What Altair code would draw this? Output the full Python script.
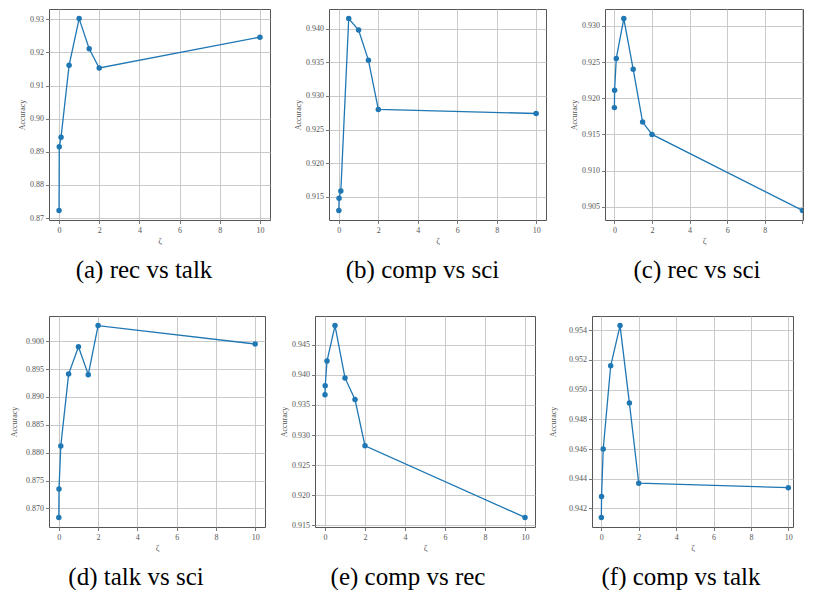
import altair as alt
import pandas as pd

zeta = [0, 0.01, 0.1, 0.5, 1, 1.5, 2, 10]
acc_a = [0.8723, 0.8915, 0.8944, 0.9161, 0.9302, 0.9211, 0.9153, 0.9246]
acc_b = [0.9130, 0.9148, 0.9159, 0.9415, 0.9398, 0.9353, 0.9280, 0.9274]
acc_c = [0.9187, 0.9211, 0.9255, 0.9310, 0.9240, 0.9167, 0.9150, 0.9045]
acc_d = [0.8684, 0.8735, 0.8812, 0.8941, 0.8990, 0.8940, 0.9028, 0.8995]
acc_e = [0.9367, 0.9382, 0.9423, 0.9482, 0.9395, 0.9359, 0.9282, 0.9163]
acc_f = [0.9414, 0.9428, 0.9460, 0.9516, 0.9543, 0.9491, 0.9437, 0.9434]

xticks = [0, 2, 4, 6, 8, 10]
yticks_a = [0.87, 0.88, 0.89, 0.90, 0.91, 0.92, 0.93]
yticks_b = [0.915, 0.920, 0.925, 0.930, 0.935, 0.940]
yticks_c = [0.905, 0.910, 0.915, 0.920, 0.925, 0.930]
yticks_d = [0.870, 0.875, 0.880, 0.885, 0.890, 0.895, 0.900]
yticks_e = [0.915, 0.920, 0.925, 0.930, 0.935, 0.940, 0.945]
yticks_f = [0.942, 0.944, 0.946, 0.948, 0.950, 0.952, 0.954]

captions = ["(a) rec vs talk", "(b) comp vs sci", "(c) rec vs sci",
            "(d) talk vs sci", "(e) comp vs rec", "(f) comp vs talk"]

BLUE = "#1f77b4"
FRAME = "#555555"
SERIF = "Liberation Serif"
TITLE_PAD = 2


def panel(vals, ticks, fmt, caption, width, height, title_dist, dx,
          xmax=10.5, hide10=False):
    df = pd.DataFrame({"zeta": zeta, "acc": vals})
    lo, hi = min(vals), max(vals)
    pad = 0.05 * (hi - lo)
    ext = title_dist - TITLE_PAD
    xaxis = dict(values=xticks, title="ζ", format="d")
    if hide10:
        xaxis["labelExpr"] = "datum.value > 9 ? '' : datum.label"
    x = alt.X("zeta:Q",
              scale=alt.Scale(domain=[-0.5, xmax], nice=False, zero=False),
              axis=alt.Axis(**xaxis))
    y = alt.Y("acc:Q",
              scale=alt.Scale(domain=[lo - pad, hi + pad], nice=False, zero=False),
              axis=alt.Axis(values=ticks, format=fmt, title="Accuracy",
                            minExtent=ext, maxExtent=ext,
                            titlePadding=TITLE_PAD))
    base = alt.Chart(df)
    line = base.mark_line(color=BLUE, strokeWidth=1.3, clip=True).encode(x=x, y=y)
    pts = base.mark_circle(color=BLUE, size=30, opacity=1, clip=True).encode(x=x, y=y)
    return alt.layer(line, pts).properties(
        width=width, height=height,
        title=alt.TitleParams(caption, orient="bottom", frame="group",
                              anchor="middle", dx=dx, offset=12,
                              fontSize=25, font=SERIF, fontWeight="normal",
                              color="black"))


row1 = alt.hconcat(
    panel(acc_a, yticks_a, ".2f", captions[0], 221, 211, 23, -15.5),
    panel(acc_b, yticks_b, ".3f", captions[1], 217, 211, 27, -15),
    panel(acc_c, yticks_c, ".3f", captions[2], 198, 211, 27, -7,
          xmax=10.03, hide10=True),
    spacing=22,
)
row2 = alt.hconcat(
    panel(acc_d, yticks_d, ".3f", captions[3], 216, 211, 31, -21),
    panel(acc_e, yticks_e, ".3f", captions[4], 220, 211, 27, -17),
    panel(acc_f, yticks_f, ".3f", captions[5], 201, 211, 34.4, -11.5,
          xmax=10.25),
    spacing=13,
)

chart = alt.vconcat(row1, row2, spacing=32).properties(
    padding={"left": 1, "top": 0, "right": 0, "bottom": 0}
).configure_view(
    stroke=FRAME, strokeWidth=1
).configure_axis(
    grid=True, gridColor="#c4c4c4", gridWidth=0.9,
    domain=False, tickColor=FRAME, tickSize=3.5, tickWidth=0.8,
    labelFont=SERIF, labelFontSize=8, labelColor="#555555",
    titleFont=SERIF, titleFontSize=8, titleColor="#555555",
    titleFontWeight="normal", labelPadding=2,
).configure_axisX(
    labelPadding=3, titlePadding=2, titleFontSize=9
)

chart.save("out.html", embed_options={"renderer": "svg", "actions": False})
